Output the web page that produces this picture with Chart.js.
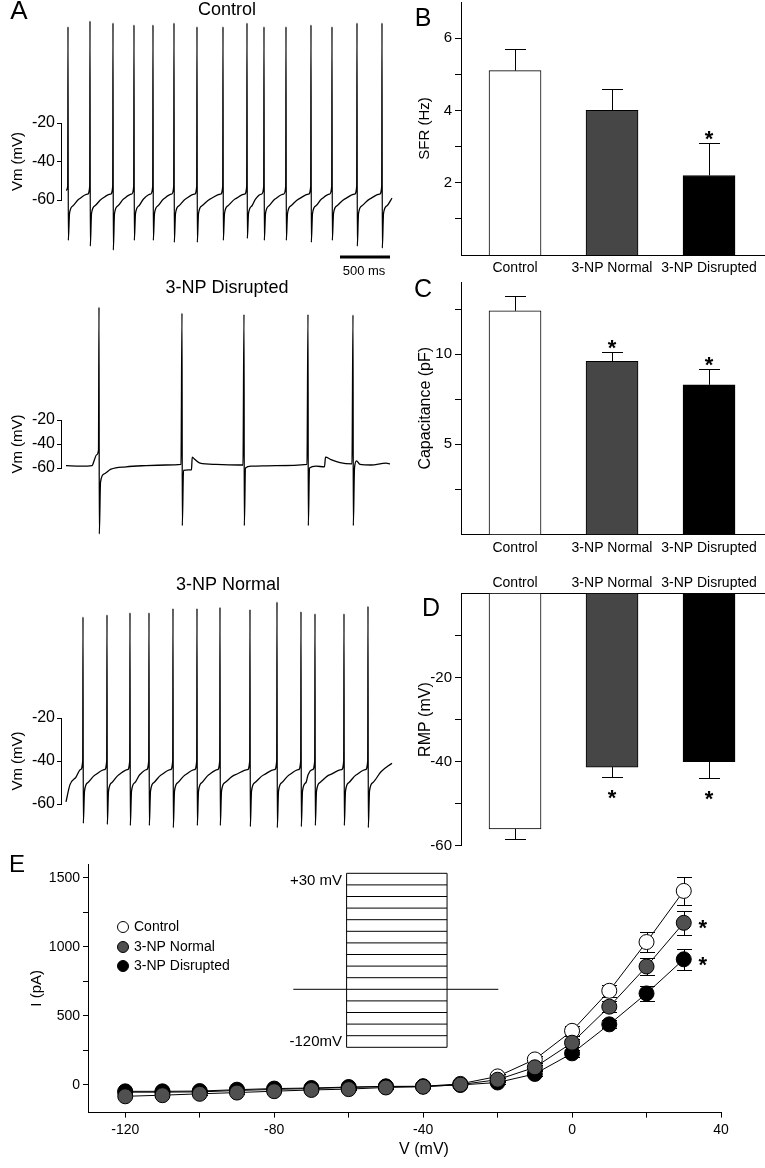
<!DOCTYPE html>
<html>
<head>
<meta charset="utf-8">
<script src="https://cdn.jsdelivr.net/npm/chart.js@4.4.1/dist/chart.umd.min.js"></script>
<style>
  body { margin: 0; background: #fff; }
  #fig { position: relative; width: 765px; height: 1168px; overflow: hidden; background: #fff; }
  canvas { position: absolute; }
</style>
</head>
<body>
<div id="fig">
  <canvas id="aCtrl" width="400" height="260" style="left:0;top:0"></canvas>
  <canvas id="aDis" width="400" height="280" style="left:0;top:260px"></canvas>
  <canvas id="aNorm" width="400" height="300" style="left:0;top:540px"></canvas>
  <canvas id="bChart" width="365" height="280" style="left:400px;top:0"></canvas>
  <canvas id="cChart" width="365" height="290" style="left:400px;top:270px"></canvas>
  <canvas id="dChart" width="365" height="300" style="left:400px;top:560px"></canvas>
  <canvas id="eChart" width="765" height="328" style="left:0;top:840px"></canvas>
  <canvas id="inset" width="230" height="200" style="left:280px;top:860px"></canvas>
</div>
<script>
// ---- panel A: voltage traces (time in ms, Vm in mV) ----
const ctrlSpikeT = [20, 240, 470, 680, 870, 1080, 1310, 1570, 1810, 1980, 2200, 2450, 2660, 2910, 3160];
const ctrlPeak = [30, 33, 32, 31, 31, 32, 30, 30, 32, 30, 30, 31, 30, 32, 32];
const ctrlTrough = [-81, -84, -86, -81, -81, -82, -82, -81, -80, -81, -81, -82, -81, -84, -85];
const ctrlRecovery = [-67, -63, -59.5, -57, -53]; // ahp, ahp2, mid, late, pre
const ctrlStart = [[0, -55]];
const ctrlEnd = [[3260, -59]];

const normSpikeT = [170, 410, 640, 830, 1070, 1310, 1540, 1840, 2110, 2350, 2490, 2780, 3020];
const normPeak = [27, 28, 29, 29, 31, 31, 31.5, 30.5, 34, 29.5, 28.5, 28.5, 32];
const normTrough = [-69, -69.5, -70, -70, -71, -70, -70, -70.5, -71, -70.5, -70, -70, -71];
const normRecovery = [-54, -50, -46.5, -44, -40];
const normStart = [[0, -59], [40, -51], [100, -47.5], [145, -44]];
const normEnd = [[3150, -45], [3260, -41]];

// disrupted cell, read point by point
const disTrace = [
  [0, -58], [150, -58.5], [260, -58], [285, -53], [305, -49], [325, -45],
  [330, 74], [333, -115], [345, -72], [380, -65], [450, -61], [600, -59], [800, -58], [1000, -57.5], [1150, -57],
  [1160, 69], [1163, -108], [1175, -62], [1255, -61.5], [1262, -51], [1290, -53], [1340, -56], [1500, -57], [1770, -57.5],
  [1780, 68], [1783, -108], [1795, -60], [1850, -58.5], [2100, -58], [2410, -57],
  [2420, 68], [2423, -108], [2435, -60], [2500, -58.5], [2585, -59], [2595, -51], [2650, -53], [2740, -55.5], [2860, -56.5],
  [2870, 67.5], [2873, -108], [2885, -60], [2905, -54], [2940, -57], [3050, -57.5], [3200, -56], [3240, -56.5]
];
const scaleBarT = [2740, 3240];
const scaleBarV = -89.6;

// ---- panels B-D: bar data ----
const groups = ['Control', '3-NP Normal', '3-NP Disrupted'];
const sfrMean = [5.1, 4.0, 2.2];
const sfrErr = [0.6, 0.6, 0.9];
const sfrSig = [false, false, true];
const capMean = [12.4, 9.6, 8.3];
const capErr = [0.8, 0.5, 0.9];
const capSig = [false, true, true];
const rmpMean = [-56, -41.3, -40];
const rmpErr = [2.3, 2.4, 4];
const rmpSig = [false, true, true];
const sfrTicks = [1, 2, 3, 4, 5, 6];
const capTicks = [2.5, 5, 7.5, 10, 12.5];
const rmpTicks = [-60, -50, -40, -30, -20, -10];

// ---- panel E: I-V ----
const ivV = [-120, -110, -100, -90, -80, -70, -60, -50, -40, -30, -20, -10, 0, 10, 20, 30];
const ivCtrl = [-52, -52, -50, -40, -32, -26, -18, -12, -10, 8, 62, 185, 392, 682, 1035, 1405];
const ivNorm = [-82, -74, -64, -55, -45, -36, -30, -18, -13, 3, 38, 128, 306, 567, 858, 1174];
const ivDis = [-46, -46, -44, -34, -26, -22, -15, -10, -10, 0, 18, 80, 229, 439, 663, 910];
const ivCtrlErr = [8, 8, 8, 8, 8, 8, 8, 8, 8, 10, 15, 25, 35, 45, 70, 102];
const ivNormErr = [8, 8, 8, 8, 8, 8, 8, 8, 8, 10, 15, 20, 30, 40, 62, 85];
const ivDisErr = [8, 8, 8, 8, 8, 8, 8, 8, 8, 10, 12, 18, 25, 30, 53, 75];
const ivXTicks = [-120, -100, -80, -60, -40, -20, 0, 20, 40];
const ivYTicks = [0, 250, 500, 750, 1000, 1250, 1500];

// inset protocol
const stepLevels = [30, 20, 10, 0, -10, -20, -30, -40, -50, -60, -70, -80, -90, -100, -110, -120];
const stepTimes = [0, 52, 150, 200]; // hold start, step on, step off, hold end
const holdV = -70;

const FONT = '"Liberation Sans", Arial, sans-serif';
Chart.defaults.font.family = FONT;
Chart.defaults.color = '#000';
Chart.defaults.animation = false;
Chart.defaults.events = [];
Chart.defaults.plugins.legend.display = false;
Chart.defaults.plugins.tooltip.enabled = false;

function el(id) { return document.getElementById(id); }
function f(size, bold) { return (bold ? 'bold ' : '') + size + 'px ' + FONT; }

function fixed(size) {
    return s => {
        if (s.isHorizontal()) s.height = size; else s.width = size;
        s.paddingLeft = s.paddingRight = s.paddingTop = s.paddingBottom = 0;
    };
}
function setTicks(vals) { return s => { s.ticks = vals.map(v => ({ value: v })); }; }

function buildTrace(start, spikes, peaks, troughs, rec, end) {
    const pts = start.map(p => ({ x: p[0], y: p[1] }));
    spikes.forEach((t, i) => {
        pts.push({ x: t - 3, y: rec[4] }, { x: t, y: peaks[i] }, { x: t + 3, y: troughs[i] },
                 { x: t + 15, y: rec[0] }, { x: t + 50, y: rec[1] });
        const next = spikes[i + 1];
        if (next !== undefined) pts.push({ x: (t + next) / 2, y: rec[2] }, { x: next - 25, y: rec[3] });
    });
    end.forEach(p => pts.push({ x: p[0], y: p[1] }));
    return pts;
}

// free text / legend dots, page coordinates
const textLayer = {
    id: 'textLayer',
    afterDraw(chart, args, o) {
        const ctx = chart.ctx, ox = chart.canvas.offsetLeft, oy = chart.canvas.offsetTop;
        ctx.save();
        (o.items || []).forEach(it => {
            if (it.dot) {
                ctx.beginPath();
                ctx.arc(it.x - ox, it.y - oy, it.r, 0, Math.PI * 2);
                ctx.fillStyle = it.dot; ctx.fill();
                ctx.lineWidth = 1; ctx.strokeStyle = '#000'; ctx.stroke();
                return;
            }
            ctx.font = it.font; ctx.fillStyle = '#000';
            ctx.textAlign = it.align || 'center'; ctx.textBaseline = 'middle';
            ctx.fillText(it.text, it.x - ox, it.y - oy);
        });
        ctx.restore();
    }
};

function drawStar(ctx, x, y) {
    ctx.font = f(22, true); ctx.fillStyle = '#000';
    ctx.textAlign = 'center'; ctx.textBaseline = 'alphabetic';
    ctx.fillText('*', x, y + 12.5);
}

// error bars + significance stars
function drawErrors(chart, o) {
    const ctx = chart.ctx, ys = chart.scales.y;
    ctx.save();
    ctx.strokeStyle = '#000'; ctx.lineWidth = 1;
    o.errs.forEach((errs, di) => {
        const meta = chart.getDatasetMeta(di);
        meta.data.forEach((pt, i) => {
            const v = chart.data.datasets[di].data[i].y, e = errs[i];
            const x = Math.round(pt.x) + 0.5;
            const hi = Math.round(ys.getPixelForValue(v + e)) + 0.5;
            const lo = Math.round(ys.getPixelForValue(v - e)) + 0.5;
            const mid = ys.getPixelForValue(v);
            const ends = o.mode === 'up' ? [hi] : o.mode === 'down' ? [lo] : [hi, lo];
            ctx.beginPath();
            if (o.mode === 'both') { ctx.moveTo(x, hi); ctx.lineTo(x, lo); }
            else { ctx.moveTo(x, mid); ctx.lineTo(x, ends[0]); }
            ends.forEach(yy => { ctx.moveTo(x - o.cap / 2, yy); ctx.lineTo(x + o.cap / 2, yy); });
            ctx.stroke();
        });
    });
    ctx.restore();
}
function drawStars(chart, o) {
    const ctx = chart.ctx, ys = chart.scales.y;
    ctx.save();
    (o.sig || []).forEach((flags, di) => {
        const meta = chart.getDatasetMeta(di);
        flags.forEach((on, i) => {
            if (!on) return;
            const v = chart.data.datasets[di].data[i].y, e = o.errs[di][i];
            const ref = o.mode === 'up' ? v + e : o.mode === 'down' ? v - e : v;
            drawStar(ctx, meta.data[i].x + (o.starDx || 0), ys.getPixelForValue(ref) + o.starDy);
        });
    });
    ctx.restore();
}
const errorBars = {
    id: 'errorBars',
    beforeDatasetsDraw(chart, args, o) { if (o.errs && o.behind) drawErrors(chart, o); },
    afterDatasetsDraw(chart, args, o) {
        if (!o.errs) return;
        if (!o.behind) drawErrors(chart, o);
        drawStars(chart, o);
    }
};

function vAxis(min, max, ticks, showEvery, title, width, titlePad, tickLen, tickPad, tickSize, titleSize) {
    return {
        min, max,
        afterBuildTicks: setTicks(ticks),
        afterFit: fixed(width),
        grid: { drawOnChartArea: false, tickLength: tickLen, color: '#000' },
        border: { color: '#000' },
        ticks: { autoSkip: false, padding: tickPad, font: { size: tickSize },
                 callback: v => (showEvery === null || v % showEvery === 0) ? v : '' },
        title: { display: true, text: title, font: { size: titleSize }, padding: { top: titlePad, bottom: 0 } }
    };
}

// ---- A ----
function traceChart(id, pts, pad, extraSets, items) {
    return new Chart(el(id), {
        type: 'scatter',
        data: {
            datasets: [{ data: pts, showLine: true, borderColor: '#000', borderWidth: 1.3, borderJoinStyle: 'round',
                         pointRadius: 0, cubicInterpolationMode: 'monotone', clip: false }].concat(extraSets)
        },
        options: {
            responsive: false,
            layout: { padding: pad },
            scales: {
                x: { type: 'linear', display: false, min: -50, max: 3260 },
                y: vAxis(-60, -20, [-60, -40, -20], null, 'Vm (mV)', 61, 9, 4, 2, 16, 15)
            },
            plugins: { textLayer: { items } }
        },
        plugins: [textLayer]
    });
}

traceChart('aCtrl', buildTrace(ctrlStart, ctrlSpikeT, ctrlPeak, ctrlTrough, ctrlRecovery, ctrlEnd),
    { left: 0, top: 123, right: 8, bottom: 60 },
    [{ data: scaleBarT.map(t => ({ x: t, y: scaleBarV })), showLine: true, borderColor: '#000', borderWidth: 3,
       pointRadius: 0, clip: false }],
    [{ text: 'A', x: 19, y: 12, font: f(26) },
     { text: 'Control', x: 227, y: 10, font: f(18) }]);

traceChart('aDis', disTrace.map(p => ({ x: p[0], y: p[1] })),
    { left: 0, top: 160, right: 8, bottom: 72 }, [],
    [{ text: '500 ms', x: 364, y: 271, font: f(13) },
     { text: '3-NP Disrupted', x: 227, y: 288, font: f(18) }]);

traceChart('aNorm', buildTrace(normStart, normSpikeT, normPeak, normTrough, normRecovery, normEnd),
    { left: 0, top: 178, right: 8, bottom: 36 }, [],
    [{ text: '3-NP Normal', x: 228, y: 585, font: f(18) }]);

// ---- B, C, D ----
const barFill = ['#ffffff', '#464646', '#000000'];
function barChart(id, mean, err, sig, yAx, xPos, xHeight, xPad, pad, mode, starDy, items) {
    return new Chart(el(id), {
        type: 'bar',
        data: {
            datasets: [{ data: groups.map((g, i) => ({ x: i + 1, y: mean[i] })), backgroundColor: barFill,
                         borderColor: '#000', borderWidth: 1, barThickness: 52 }]
        },
        options: {
            responsive: false,
            layout: { padding: pad },
            scales: {
                x: { type: 'linear', position: xPos, min: 0.443, max: 3.577, offset: false,
                     afterBuildTicks: setTicks([1, 2, 3]), afterFit: fixed(xHeight),
                     grid: { display: true, drawOnChartArea: false, drawTicks: false, offset: false },
                     border: { color: '#000' },
                     ticks: { autoSkip: false, maxRotation: 0, padding: xPad, font: { size: 14 },
                              callback: v => groups[v - 1] } },
                y: yAx
            },
            plugins: {
                errorBars: { errs: [err], sig: [sig], mode, cap: 21, starDy },
                textLayer: { items }
            }
        },
        plugins: [errorBars, textLayer]
    });
}

barChart('bChart', sfrMean, sfrErr, sfrSig,
    vAxis(0, 7, sfrTicks, 2, 'SFR (Hz)', 61, 16, 6, 3, 15, 15),
    'bottom', 25, 5, { left: 0, top: 2, right: 0, bottom: 0 }, 'up', -9,
    [{ text: 'B', x: 423, y: 19, font: f(25) }]);

barChart('cChart', capMean, capErr, capSig,
    vAxis(0, 14, capTicks, 5, 'Capacitance (pF)', 61, 16, 6, 3, 15, 16),
    'bottom', 25.5, 5, { left: 0, top: 12, right: 0, bottom: 0 }, 'up', -9.5,
    [{ text: 'C', x: 423, y: 290, font: f(25) }]);

barChart('dChart', rmpMean, rmpErr, rmpSig,
    vAxis(-60, 0, rmpTicks, 20, 'RMP (mV)', 61, 16, 6, 3, 15, 16),
    'top', 33.5, 2, { left: 0, top: 0, right: 0, bottom: 14.3 }, 'down', 15,
    [{ text: 'D', x: 431, y: 609, font: f(25) }]);

// ---- E ----
function ivSet(vals, fill, order) {
    return { data: ivV.map((v, i) => ({ x: v, y: vals[i] })), showLine: true, borderColor: '#000', borderWidth: 1,
             pointRadius: 7.5, pointBorderWidth: 1, pointBorderColor: '#000', pointBackgroundColor: fill, order };
}
new Chart(el('eChart'), {
    type: 'scatter',
    data: { datasets: [ivSet(ivCtrl, '#ffffff', 2), ivSet(ivNorm, '#505050', 0), ivSet(ivDis, '#000000', 1)] },
    options: {
        responsive: false,
        layout: { padding: { left: 0, top: 24, right: 44, bottom: 0 } },
        scales: {
            x: { type: 'linear', min: -130, max: 40,
                 afterBuildTicks: setTicks(ivXTicks), afterFit: fixed(55.4),
                 grid: { drawOnChartArea: false, tickLength: 5, color: '#000' },
                 border: { color: '#000' },
                 ticks: { autoSkip: false, maxRotation: 0, padding: 4, font: { size: 14 },
                          callback: v => v % 40 === 0 ? v : '' } },
            y: vAxis(-200, 1600, ivYTicks, 500, 'I (pA)', 88, 28, 5, 3, 14, 15)
        },
        plugins: {
            errorBars: { errs: [ivCtrlErr, ivNormErr, ivDisErr], behind: true, mode: 'both', cap: 15,
                         sig: [[], ivV.map(v => v === 30), ivV.map(v => v === 30)], starDx: 19, starDy: 0 },
            textLayer: { items: [
                { text: 'E', x: 17, y: 865, font: f(24) },
                { text: 'V (mV)', x: 424, y: 1150, font: f(16) },
                { dot: '#ffffff', x: 123, y: 927, r: 5.5 },
                { dot: '#505050', x: 123, y: 947, r: 5.5 },
                { dot: '#000000', x: 123, y: 966, r: 5.5 },
                { text: 'Control', x: 134, y: 927, font: f(14), align: 'left' },
                { text: '3-NP Normal', x: 134, y: 947, font: f(14), align: 'left' },
                { text: '3-NP Disrupted', x: 134, y: 966, font: f(14), align: 'left' },
                { text: '+30 mV', x: 342, y: 881, font: f(15), align: 'right' },
                { text: '-120mV', x: 342, y: 1042, font: f(15), align: 'right' }
            ] }
        }
    },
    plugins: [errorBars, textLayer]
});

// inset: voltage step protocol
const seg = pts => ({ data: pts.map(p => ({ x: p[0], y: p[1] })), showLine: true, borderColor: '#000',
                      borderWidth: 1, pointRadius: 0, clip: false });
const protoSets = stepLevels.map(L => seg([[stepTimes[1], L], [stepTimes[2], L]]))
    .concat([
        seg([[stepTimes[1], stepLevels[stepLevels.length - 1]], [stepTimes[1], stepLevels[0]]]),
        seg([[stepTimes[2], stepLevels[stepLevels.length - 1]], [stepTimes[2], stepLevels[0]]]),
        seg([[stepTimes[0], holdV], [stepTimes[1], holdV]]),
        seg([[stepTimes[2], holdV], [stepTimes[3], holdV]])
    ]);
new Chart(el('inset'), {
    type: 'scatter',
    data: { datasets: protoSets },
    options: {
        responsive: false,
        layout: { padding: { left: 13.3, top: 13.3, right: 11.7, bottom: 12.7 } },
        scales: {
            x: { type: 'linear', display: false, min: stepTimes[0], max: stepTimes[3] },
            y: { display: false, min: -120, max: 30 }
        }
    }
});
</script>
</body>
</html>
